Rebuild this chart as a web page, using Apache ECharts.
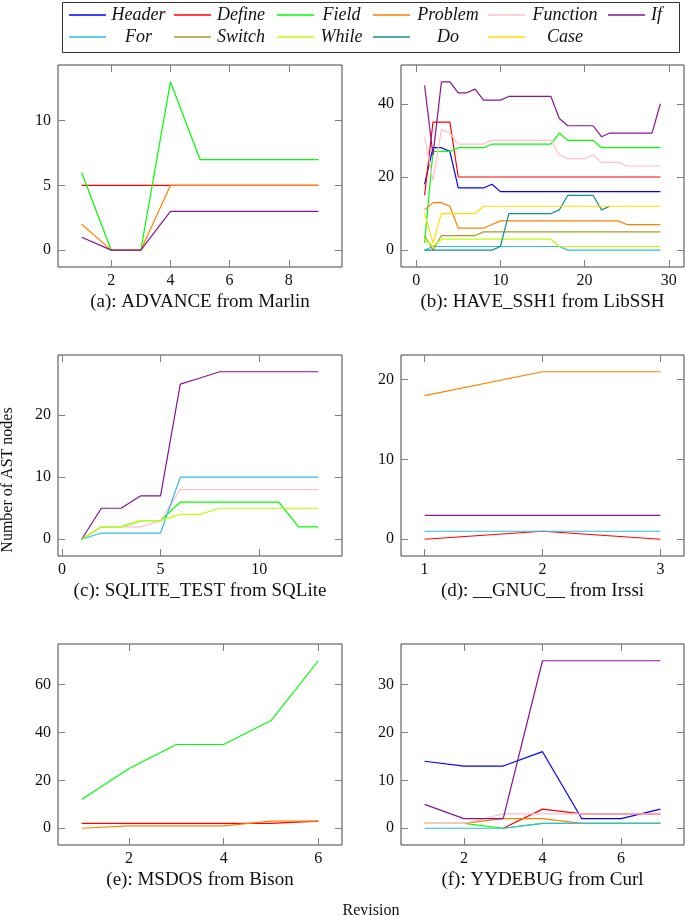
<!DOCTYPE html>
<html><head><meta charset="utf-8">
<script src="https://cdn.jsdelivr.net/npm/echarts@6/dist/echarts.min.js"></script>
<style>html,body{margin:0;padding:0;background:#fff}#c{width:685px;height:916px}</style>
</head><body><div id="c"></div>
<script>
// ---------------- data ----------------
const seriesNames = ['Header','Define','Field','Problem','Function','If','For','Switch','While','Do','Case'];

const captionA = '(a): ADVANCE from Marlin';
const captionB = '(b): HAVE_SSH1 from LibSSH';
const captionC = '(c): SQLITE_TEST from SQLite';
const captionD = '(d): __GNUC__ from Irssi';
const captionE = '(e): MSDOS from Bison';
const captionF = '(f): YYDEBUG from Curl';
const xTitle = 'Revision';
const yTitle = 'Number of AST nodes';

// (a) ADVANCE from Marlin
const revA = [1,2,3,4,5,6,7,8,9];
const a_Define  = [5,5,5,5,5,5,5,5,5];
const a_Field   = [6,0,0,13,7,7,7,7,7];
const a_Problem = [2,0,0,5,5,5,5,5,5];
const a_If      = [1,0,0,3,3,3,3,3,3];
const a_xTicks = [2,4,6,8];
const a_yTicks = [0,5,10];

// (b) HAVE_SSH1 from LibSSH
const revB = [1,2,3,4,5,6,7,8,9,10,11,12,13,14,15,16,17,18,19,20,21,22,23,24,25,26,27,28,29];
const b_Header   = [18,28,28,27,17,17,17,17,18,16,16,16,16,16,16,16,16,16,16,16,16,16,16,16,16,16,16,16,16];
const b_Define   = [15,35,35,35,20,20,20,20,20,20,20,20,20,20,20,20,20,20,20,20,20,20,20,20,20,20,20,20,20];
const b_Field    = [2,27,27,27,28,28,28,28,29,29,29,29,29,29,29,29,32,30,30,30,30,28,28,28,28,28,28,28,28];
const b_Problem  = [11,13,13,12,6,6,6,6,7,8,8,8,8,8,8,8,8,8,8,8,8,8,8,8,7,7,7,7,7];
const b_Function = [31,19,33,32,29,29,29,29,30,30,30,30,30,30,30,30,26,25,25,25,26,24,24,24,23,23,23,23,23];
const b_If       = [45,26,46,46,43,43,44,41,41,41,42,42,42,42,42,42,36,34,34,34,34,31,32,32,32,32,32,32,40];
const b_For      = [0,1,1,1,1,1,1,1,1,1,1,1,1,1,1,1,1,0,0,0,0,0,0,0,0,0,0,0,0];
const b_Switch   = [4,0,4,4,4,4,4,5,5,5,5,5,5,5,5,5,5,5,5,5,5,5,5,5,5,5,5,5,5];
const b_While    = [3,1,3,3,3,3,3,3,3,3,3,3,3,3,3,3,1,1,1,1,1,1,1,1,1,1,1,1,1];
const b_Do       = [0,0,0,0,0,0,0,0,0,1,10,10,10,10,10,10,11,15,15,15,15,11,12,null,null,null,null,null,null];
const b_Case     = [10,2,10,10,10,10,10,12,12,12,12,12,12,12,12,12,12,12,12,12,12,12,12,12,12,12,12,12,12];
const b_xTicks = [0,10,20,30];
const b_yTicks = [0,20,40];

// (c) SQLITE_TEST from SQLite
const revC = [1,2,3,4,5,6,7,8,9,10,11,12,13];
const c_Field    = [0,2,2,3,3,6,6,6,6,6,6,2,2];
const c_Function = [0,2,2,2,3,8,8,8,8,8,8,8,8];
const c_If       = [0,5,5,7,7,25,26,27,27,27,27,27,27];
const c_For      = [0,1,1,1,1,10,10,10,10,10,10,10,10];
const c_While    = [0,2,2,3,3,4,4,5,5,5,5,5,5];
const c_xTicks = [0,5,10];
const c_yTicks = [0,10,20];

// (d) __GNUC__ from Irssi
const revD = [1,2,3];
const d_Define  = [0,1,0];
const d_Problem = [18,21,21];
const d_If      = [3,3,3];
const d_For     = [1,1,1];
const d_xTicks = [1,2,3];
const d_yTicks = [0,10,20];

// (e) MSDOS from Bison
const revE = [1,2,3,4,5,6];
const e_Define  = [2,2,2,2,2,3];
const e_Field   = [12,25,35,35,45,70];
const e_Problem = [0,1,1,1,3,3];
const e_xTicks = [2,4,6];
const e_yTicks = [0,20,40,60];

// (f) YYDEBUG from Curl
const revF = [1,2,3,4,5,6,7];
const f_Header   = [14,13,13,16,2,2,4];
const f_Define   = [null,null,0,4,3,3,3];
const f_Field    = [1,1,0,1,1,1,1];
const f_Problem  = [1,1,2,2,1,1,1];
const f_Function = [1,1,3,3,3,3,3];
const f_If       = [5,2,2,35,35,35,35];
const f_For      = [0,0,0,1,1,1,1];
const f_xTicks = [2,4,6];
const f_yTicks = [0,10,20,30];

// ---------------- styling / layout ----------------
const colorOf = {
  Header:'#0000ff', Define:'#ff0000', Field:'#00ff00', Problem:'#ff8000',
  Function:'#ffc0cb', If:'#861690', For:'#30bde0', Switch:'#aa9a2c',
  While:'#bfff00', Do:'#129090', Case:'#ffe000'
};
const FONT = '"Liberation Serif", "DejaVu Serif", serif';

const panels = [
  {rev: revA, xt: a_xTicks, yt: a_yTicks, cap: captionA, lines: {Define:a_Define, Field:a_Field, Problem:a_Problem, If:a_If},
   box: {left:58, top:65, width:284, height:202}},
  {rev: revB, xt: b_xTicks, yt: b_yTicks, cap: captionB, lines: {Header:b_Header, Define:b_Define, Field:b_Field, Problem:b_Problem, Function:b_Function, If:b_If, For:b_For, Switch:b_Switch, While:b_While, Do:b_Do, Case:b_Case},
   box: {left:401, top:65, width:283, height:202}},
  {rev: revC, xt: c_xTicks, yt: c_yTicks, cap: captionC, lines: {Field:c_Field, Function:c_Function, If:c_If, For:c_For, While:c_While},
   box: {left:58, top:355, width:284, height:201}},
  {rev: revD, xt: d_xTicks, yt: d_yTicks, cap: captionD, lines: {Define:d_Define, Problem:d_Problem, If:d_If, For:d_For},
   box: {left:401, top:355, width:283, height:201}},
  {rev: revE, xt: e_xTicks, yt: e_yTicks, cap: captionE, lines: {Define:e_Define, Field:e_Field, Problem:e_Problem},
   box: {left:58, top:644, width:284, height:201}},
  {rev: revF, xt: f_xTicks, yt: f_yTicks, cap: captionF, lines: {Header:f_Header, Define:f_Define, Field:f_Field, Problem:f_Problem, Function:f_Function, If:f_If, For:f_For},
   box: {left:401, top:644, width:283, height:201}}
];

function padExtent(vals) {
  const v = vals.filter(x => x !== null && x !== undefined);
  const lo = Math.min(...v), hi = Math.max(...v);
  const pad = (hi - lo) * 0.1;
  return [lo - pad, hi + pad];
}

function makeAxis(i, pos, min, max, ticks, withLabels) {
  return {
    gridIndex: i, type: 'value', min: min, max: max, position: pos,
    splitLine: {show: false},
    axisLine: {show: false, onZero: false},
    axisTick: {show: true, inside: true, length: 7, customValues: ticks.slice(),
               lineStyle: {color: '#808080', width: 1}},
    axisLabel: {show: withLabels, customValues: ticks.slice(), color: '#111',
                fontFamily: FONT, fontSize: 16, margin: (pos === 'left' ? 7 : 6)}
  };
}

const grid = [], xAxis = [], yAxis = [], series = [], graphic = [];

panels.forEach((p, i) => {
  grid.push({show:true, borderColor:'#444', borderWidth:1, backgroundColor:'transparent',
             left:p.box.left, top:p.box.top, width:p.box.width, height:p.box.height});
  const [x0, x1] = padExtent(p.rev);
  let allY = [];
  Object.values(p.lines).forEach(a => { allY = allY.concat(a); });
  const [y0, y1] = padExtent(allY);
  xAxis.push(makeAxis(i, 'bottom', x0, x1, p.xt, true));
  yAxis.push(makeAxis(i, 'left', y0, y1, p.yt, true));
  seriesNames.forEach(name => {
    const ys = p.lines[name];
    if (!ys) return;
    const data = [];
    p.rev.forEach((x, k) => { if (ys[k] !== null) data.push([x, ys[k]]); });
    series.push({
      type:'line', name, xAxisIndex:i, yAxisIndex:i, data,
      symbol:'none', showSymbol:false, animation:false,
      lineStyle:{width:1.2, color:colorOf[name]}, itemStyle:{color:colorOf[name]}
    });
  });
  graphic.push({type:'text', x: p.box.left + p.box.width/2, y: p.box.top + p.box.height + 35,
    style:{text:p.cap, textAlign:'center', textVerticalAlign:'middle', font:'19px ' + FONT, fill:'#111'}});
});
// mirrored tick axes (top / right)
panels.forEach((p, i) => {
  const [x0, x1] = padExtent(p.rev);
  let allY = [];
  Object.values(p.lines).forEach(a => { allY = allY.concat(a); });
  const [y0, y1] = padExtent(allY);
  xAxis.push(makeAxis(i, 'top', x0, x1, p.xt, false));
  yAxis.push(makeAxis(i, 'right', y0, y1, p.yt, false));
});

graphic.push({type:'text', x:371, y:911, style:{text:xTitle, textAlign:'center', textVerticalAlign:'middle', font:'16px ' + FONT, fill:'#111'}});
graphic.push({type:'text', x:8, y:480, rotation:Math.PI/2, style:{text:yTitle, textAlign:'center', textVerticalAlign:'middle', font:'16px ' + FONT, fill:'#111'}});
graphic.push({type:'rect', shape:{x:62.5, y:2.5, width:617, height:50}, style:{fill:'none', stroke:'#333', lineWidth:1}, z:-1});

// legend columns (pgfplots style table: 6 columns x 2 rows)
const legendCols = [
  {items:['Header','For'], left:69, w:55},
  {items:['Define','Switch'], left:174, w:50},
  {items:['Field','While'], left:277, w:45},
  {items:['Problem','Do'], left:373, w:66},
  {items:['Function','Case'], left:488, w:70},
  {items:['If'], left:608, w:13}
];
const legend = legendCols.map(c => ({
  orient:'vertical', left:c.left, top:5, icon:'rect', itemWidth:37, itemHeight:1.5, itemGap:2, padding:0,
  data:c.items, selectedMode:false,
  formatter: n => '{c|' + n + '}',
  textStyle:{rich:{c:{width:c.w, height:20, lineHeight:20, align:'center', fontFamily:FONT, fontStyle:'italic', fontSize:18, color:'#111'}}}
}));

const chart = echarts.init(document.getElementById('c'), null, {renderer:'canvas'});
chart.setOption({animation:false, backgroundColor:'#fff', grid, xAxis, yAxis, series, legend, graphic});
</script>
</body></html>
